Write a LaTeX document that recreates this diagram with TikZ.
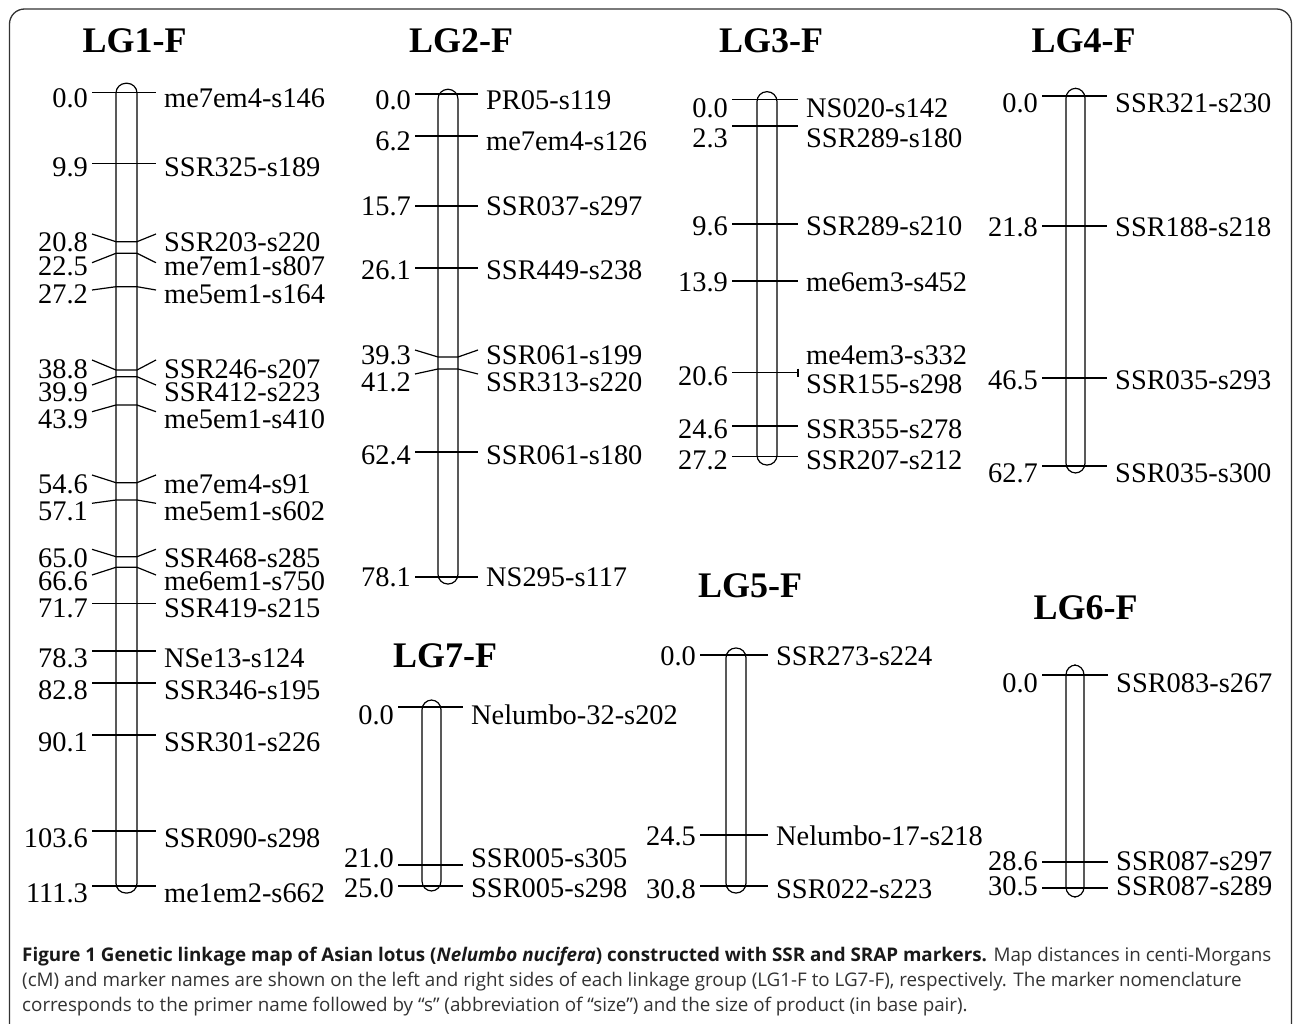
\documentclass[tikz,border=0pt]{standalone}
\usepackage{fontspec}
\setmainfont{Liberation Serif}
\newfontfamily\capfont{Open Sans}
\newcommand\linkgrp[8]{%
  \draw[barline] (#2,#4) rectangle (#3,#5);
  \foreach \cmv/\nmv/\tv/\av/\yv [count=\i] in {#8} {
    \coordinate (#1a\i) at (#6,\av);
    \coordinate (#1b\i) at (#2,\tv);
    \coordinate (#1c\i) at (#3,\tv);
    \coordinate (#1d\i) at (#7,\av);
    \draw[tickline] (#1a\i) -- (#1b\i) -- (#1c\i) -- (#1d\i);
    \node[lab, anchor=base east] (#1p\i) at (#6-4,\yv+9.5) {\cmv};
    \node[lab, anchor=base west] (#1q\i) at (#7+8,\yv+9.5) {\nmv};
  }%
}
\begin{document}
\begin{tikzpicture}[x=1pt,y=-1pt,
  lab/.style={inner sep=0pt, font=\fontsize{28.4}{30}\selectfont},
  ttl/.style={inner sep=0pt, anchor=base, font=\fontsize{36}{38}\selectfont\bfseries},
  tickline/.style={line width=1.2pt, black},
  barline/.style={line width=1.2pt, black, rounded corners=9.8pt},
  capb/.style={inner sep=0pt, anchor=base west, font=\capfont\fontsize{18.8}{22}\selectfont, text=black!80}
]
\useasboundingbox (0,0) rectangle (1293,1024);
\fill[white] (0,0) rectangle (1293,1024);
% frame
\draw[line width=1.3pt, black!80, rounded corners=15pt] (9.5,1024) -- (9.5,9) -- (1291.5,9) -- (1291.5,1024);

% titles
\node[ttl] (t1) at (134.5,52.5) {LG1-F};
\node[ttl] (t2) at (461,52.5) {LG2-F};
\node[ttl] (t3) at (771,52.5) {LG3-F};
\node[ttl] (t4) at (1083.5,52.5) {LG4-F};
\node[ttl] (t5) at (750,597) {LG5-F};
\node[ttl] (t6) at (1085.5,619) {LG6-F};
\node[ttl] (t7) at (445,667) {LG7-F};

% LG1
\linkgrp{g1}{116}{137}{83.3}{893}{92}{156}{
0.0/me7em4-s146/92.7/92.7/98.5,
9.9/SSR325-s189/163.3/163.3/166.7,
20.8/SSR203-s220/241.7/234/242.5,
22.5/me7em1-s807/253.3/262.7/266,
27.2/me5em1-s164/286.7/290/294,
38.8/SSR246-s207/370/360/369,
39.9/SSR412-s223/376.7/385/392,
43.9/me5em1-s410/405/411.7/419,
54.6/me7em4-s91/482.7/475/484,
57.1/me5em1-s602/500/503.3/511,
65.0/SSR468-s285/556.7/549.3/557.5,
66.6/me6em1-s750/567.3/575/581,
71.7/SSR419-s215/603.3/603.3/607.5,
78.3/NSe13-s124/651/651/658,
82.8/SSR346-s195/683/683/690,
90.1/SSR301-s226/735/735/742,
103.6/SSR090-s298/831/831/838,
111.3/me1em2-s662/886/886/893}

% LG2
\linkgrp{g2}{438}{458}{89.3}{584}{415}{478}{
0.0/PR05-s119/94/94/100,
6.2/me7em4-s126/136/136/141,
15.7/SSR037-s297/206/206/206,
26.1/SSR449-s238/268/268/270,
39.3/SSR061-s199/357/350/355,
41.2/SSR313-s220/369/374/382,
62.4/SSR061-s180/452/452/455,
78.1/NS295-s117/577/577/577}

% LG3
\linkgrp{g3}{757}{777}{91.7}{465}{732}{798}{
0.0/NS020-s142/99.3/99.3/108,
2.3/SSR289-s180/126/126/138,
9.6/SSR289-s210/224/224/226,
13.9/me6em3-s452/281/281/282,
24.6/SSR355-s278/426/426/429,
27.2/SSR207-s212/456.7/456.7/460}
\coordinate (g3xa) at (732,372.7);
\coordinate (g3xb) at (798,372.7);
\coordinate (g3xu) at (798,368.5);
\coordinate (g3xl) at (798,377);
\draw[tickline] (g3xa) -- (g3xb);
\draw[tickline] (g3xu) -- (g3xl);
\node[lab, anchor=base east] (g3xp) at (728,385.5) {20.6};
\node[lab, anchor=base west] (g3xq) at (806,364.5) {me4em3-s332};
\node[lab, anchor=base west] (g3xr) at (806,393.5) {SSR155-s298};

% LG4
\linkgrp{g4}{1066}{1085}{88.3}{473}{1042}{1107}{
0.0/SSR321-s230/96/96/103,
21.8/SSR188-s218/226/226/227,
46.5/SSR035-s293/378/378/380,
62.7/SSR035-s300/466/466/473}

% LG5
\linkgrp{g5}{726}{746}{648}{893}{700}{768}{
0.0/SSR273-s224/655/655/656,
24.5/Nelumbo-17-s218/835/835/836,
30.8/SSR022-s223/886/886/889}

% LG6
\linkgrp{g6}{1066}{1084}{665}{897}{1042}{1108}{
0.0/SSR083-s267/675/675/683,
28.6/SSR087-s297/862/862/861,
30.5/SSR087-s289/888/888/886}

% LG7
\linkgrp{g7}{422}{441}{700}{891}{398}{463}{
0.0/Nelumbo-32-s202/707/707/715,
21.0/SSR005-s305/865/865/858,
25.0/SSR005-s298/886/886/888}

% caption
\node[capb] (c1) at (22,961.7) {\textbf{\color{black!90}Figure 1 Genetic linkage map of Asian lotus (\textit{Nelumbo nucifera}) constructed with SSR and SRAP markers.} Map distances in centi-Morgans};
\node[capb] (c2) at (22,986.7) {(cM) and marker names are shown on the left and right sides of each linkage group (LG1-F to LG7-F), respectively. The marker nomenclature};
\node[capb] (c3) at (22,1011.7) {corresponds to the primer name followed by “s” (abbreviation of “size”) and the size of product (in base pair).};
\end{tikzpicture}
\end{document}
